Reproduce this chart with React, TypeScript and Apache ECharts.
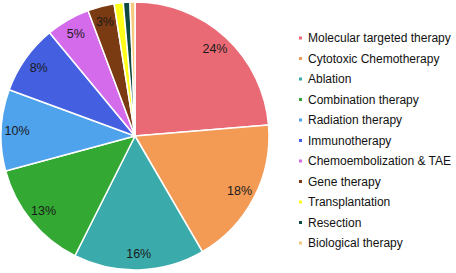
import React, { useEffect, useRef } from "react";
import * as echarts from "echarts";

const categories = [
  "Molecular targeted therapy",
  "Cytotoxic Chemotherapy",
  "Ablation",
  "Combination therapy",
  "Radiation therapy",
  "Immunotherapy",
  "Chemoembolization & TAE",
  "Gene therapy",
  "Transplantation",
  "Resection",
  "Biological therapy",
];
const values = [23.7, 17.9, 15.8, 13.4, 9.8, 8.4, 5.3, 3.2, 1.1, 0.8, 0.6];
const colors = [
  "#E96A74",
  "#F39A55",
  "#3BAAAA",
  "#33A833",
  "#4FA2EC",
  "#4460E0",
  "#D36BEB",
  "#7A3A12",
  "#FFFF1A",
  "#0F4A40",
  "#F7C97E",
];
const labelCount = 9;

export default function App() {
  const ref = useRef<HTMLDivElement>(null);
  useEffect(() => {
    if (!ref.current) return;
    const chart = echarts.init(ref.current, undefined, { renderer: "svg" });
    const data = categories.map((name, i) => ({ name, value: values[i] }));
    chart.setOption({
      animation: false,
      color: colors,
      legend: {
        orient: "vertical",
        left: 292,
        top: 26,
        itemWidth: 5,
        itemHeight: 5,
        itemGap: 6.5,
        icon: "rect",
        textStyle: {
          fontFamily: "Liberation Sans, Arial, sans-serif",
          fontSize: 12,
          color: "#111",
          lineHeight: 14,
        },
        data: categories,
      },
      series: [
        {
          type: "pie",
          center: [135, 136],
          radius: [0, 134],
          startAngle: 90,
          clockwise: true,
          label: { show: false },
          labelLine: { show: false },
          itemStyle: { borderColor: "#fff", borderWidth: 1.5 },
          emphasis: { disabled: true },
          data,
        },
        {
          type: "pie",
          center: [135, 136],
          radius: [96, 134],
          startAngle: 90,
          clockwise: true,
          silent: true,
          itemStyle: { color: "rgba(0,0,0,0)", borderWidth: 0 },
          labelLine: { show: false },
          label: {
            show: true,
            position: "inside",
            fontFamily: "Liberation Sans, Arial, sans-serif",
            fontSize: 12.5,
            color: "#1a1a1a",
            formatter: (p: any) =>
              p.dataIndex < labelCount ? Math.round(p.percent) + "%" : "",
          },
          emphasis: { disabled: true },
          data,
        },
      ],
    });
    return () => chart.dispose();
  }, []);
  return (
    <div
      ref={ref}
      style={{ position: "fixed", left: 0, top: 0, width: 456, height: 273, background: "#fff" }}
    />
  );
}
